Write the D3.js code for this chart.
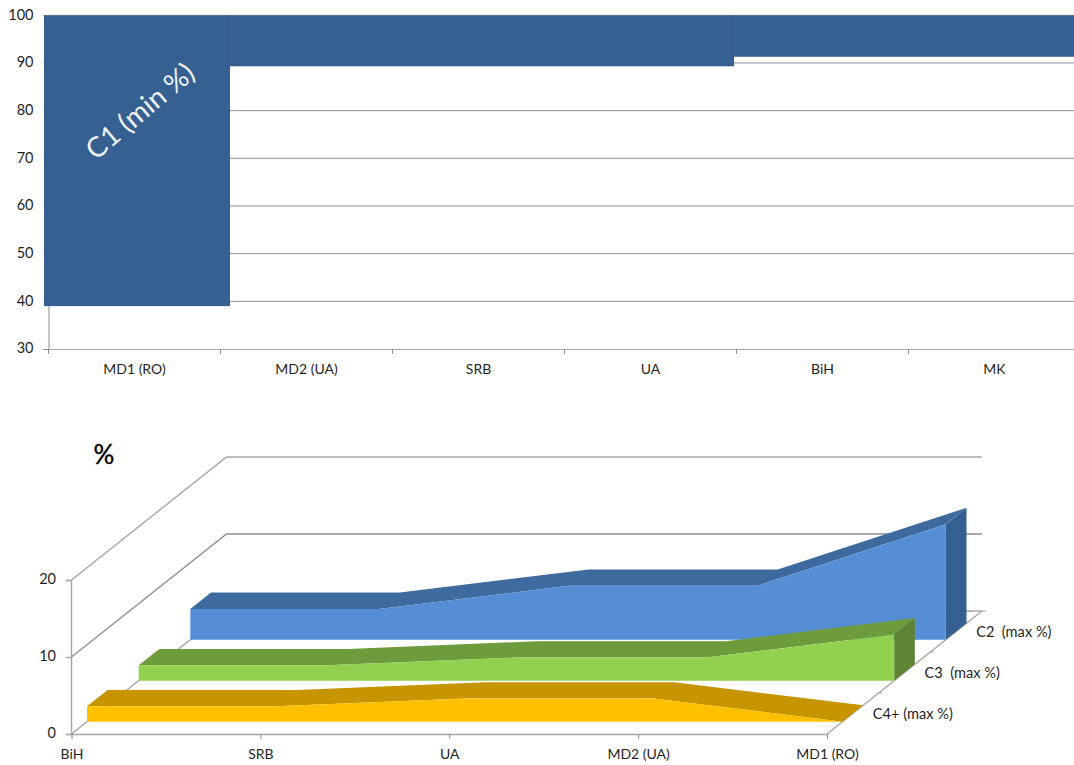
<!DOCTYPE html>
<html>
<head>
<meta charset="utf-8">
<script src="https://cdn.jsdelivr.net/npm/d3@7/dist/d3.min.js"></script>
<style>
  html, body { margin: 0; padding: 0; background: #fff; }
  svg { display: block; }
  text { font-family: Lato, "Open Sans", sans-serif; fill: #1f1f1f; }
</style>
</head>
<body>
<svg id="chart" width="1074" height="765"></svg>
<script>
// Minimum C1 share per region (upper chart)
const c1Categories = ["MD1 (RO)", "MD2 (UA)", "SRB", "UA", "BiH", "MK"];
const c1Values = [39, 89.3, 89.3, 89.3, 91.3, 91.3];
const c1Ticks = [30, 40, 50, 60, 70, 80, 90, 100];
const c1Label = "C1 (min %)";

// Maximum shares per class (lower chart)
const maxCategories = ["BiH", "SRB", "UA", "MD2 (UA)", "MD1 (RO)"];
const seriesNames = ["C2  (max %)", "C3  (max %)", "C4+ (max %)"];
const c2Values = [4, 4, 7, 7, 15];
const c3Values = [2, 2, 3, 3, 6];
const c4Values = [2, 2, 3, 3, 0];
const maxTicks = [0, 10, 20];

const svg = d3.select("#chart");
const gridColor = "#8c8c8c";
const axisColor = "#a6a6a6";

/* ---------- upper chart: bars hanging from 100 % ---------- */
const yTop = d3.scaleLinear().domain([30, 100]).range([349, 15.3]);
const xTop = d3.scaleBand().domain(c1Categories).range([48.5, 1080.5]);
// Bar edges do not sit on the category ticks: the first bar is wider than the rest
const barEdge = d3.scaleLinear().domain([0, 1, 4, 6]).range([44, 230, 734, 1074]);

const upper = svg.append("g");

upper.append("g").selectAll("line")
  .data(c1Ticks.filter(t => t > 30))
  .join("line")
  .attr("x1", 48.5).attr("x2", 1074)
  .attr("y1", d => yTop(d)).attr("y2", d => yTop(d))
  .attr("stroke", gridColor).attr("stroke-width", 1);

const leftAxis = upper.append("g")
  .attr("transform", "translate(48.5,0)")
  .call(d3.axisLeft(yTop).tickValues(c1Ticks).tickSize(5).tickPadding(10));
leftAxis.selectAll(".domain, line").attr("stroke", gridColor);
leftAxis.selectAll("text").attr("font-size", 14.5).attr("dy", "0.26em");

const bottomAxis = upper.append("g")
  .attr("transform", "translate(0,349)")
  .call(d3.axisBottom(xTop).tickSize(0).tickPadding(15));
bottomAxis.selectAll(".domain").attr("stroke", axisColor).attr("stroke-width", 1.2);
bottomAxis.selectAll("text").attr("font-size", 14);

upper.append("g").selectAll("line")
  .data(c1Categories)
  .join("line")
  .attr("x1", d => xTop(d)).attr("x2", d => xTop(d))
  .attr("y1", 349).attr("y2", 354)
  .attr("stroke", gridColor);

upper.append("g").selectAll("rect")
  .data(c1Values)
  .join("rect")
  .attr("x", (d, i) => barEdge(i))
  .attr("width", (d, i) => barEdge(i + 1) - barEdge(i))
  .attr("y", yTop(100))
  .attr("height", d => yTop(d) - yTop(100))
  .attr("fill", "#376092");

// Faint seams where the bar height changes
upper.append("g").selectAll("line")
  .data(c1Values.slice(1).map((d, i) => ({ i: i + 1, changed: d !== c1Values[i], end: Math.max(d, c1Values[i]) }))
    .filter(d => d.changed))
  .join("line")
  .attr("x1", d => barEdge(d.i) - 1).attr("x2", d => barEdge(d.i) - 1)
  .attr("y1", yTop(100)).attr("y2", d => yTop(d.end))
  .attr("stroke", "#345a89").attr("stroke-width", 1);

upper.append("text")
  .attr("transform", "translate(140,111) rotate(-40)")
  .attr("text-anchor", "middle")
  .attr("dy", "0.35em")
  .attr("font-size", 28)
  .style("fill", "#eef2f7")
  .text(c1Label);

/* ---------- lower chart: pseudo-3D ribbons ---------- */
const xFront = d3.scalePoint().domain(maxCategories).range([71.5, 827]);
// C2 sits at the back of the floor, C4+ at the front
const depth = d3.scaleBand().domain(seriesNames).range([1, 0]).paddingInner(0.6).paddingOuter(0.3);
const vScale = d3.scaleLinear().domain([0, 20]).range([734, 580]);
const depthDX = 155, depthDY = -123;

// Project (category, depth 0..1, value) on to the page
const project = (cat, d, v) => [xFront(cat) + d * depthDX, vScale(v) + d * depthDY];

const lower = svg.append("g");
const line3d = d3.line();

// Side wall and back wall gridlines
lower.append("g").selectAll("path")
  .data(maxTicks)
  .join("path")
  .attr("fill", "none")
  .attr("stroke", d => d === 10 ? "#8f8f8f" : axisColor)
  .attr("stroke-width", 1.4)
  .attr("d", v => line3d([
    project(maxCategories[0], 0, v),
    project(maxCategories[0], 1, v),
    project(maxCategories[maxCategories.length - 1], 1, v)
  ]));

// Right edge of the floor, with its depth ticks
const lastCat = maxCategories[maxCategories.length - 1];
lower.append("path")
  .attr("fill", "none").attr("stroke", axisColor).attr("stroke-width", 1.4)
  .attr("d", line3d([project(lastCat, 0, 0), project(lastCat, 1, 0)]));
lower.append("g").selectAll("path")
  .data([1 / 3, 2 / 3, 1])
  .join("path")
  .attr("stroke", axisColor)
  .attr("d", d => {
    const p = project(lastCat, d, 0);
    return line3d([p, [p[0] + 4, p[1]]]);
  });

const ribbons = [
  { name: seriesNames[0], values: c2Values, front: "#558ed5", topFace: "#3f6a9f", cap: "#376092" },
  { name: seriesNames[1], values: c3Values, front: "#92d050", topFace: "#6e9b3b", cap: "#5f8434" },
  { name: seriesNames[2], values: c4Values, front: "#ffc000", topFace: "#c69500", cap: "#b88a00" }
];

// Rear ribbons first so nearer ones overlap them
ribbons.forEach(r => {
  const d0 = depth(r.name);
  const d1 = d0 + depth.bandwidth();
  const g = lower.append("g");
  const frontTop = maxCategories.map((c, i) => project(c, d0, r.values[i]));
  const backTop = maxCategories.map((c, i) => project(c, d1, r.values[i]));
  const lastVal = r.values[r.values.length - 1];

  g.append("path").attr("fill", r.cap)
    .attr("d", line3d([
      project(lastCat, d0, lastVal), project(lastCat, d1, lastVal),
      project(lastCat, d1, 0), project(lastCat, d0, 0)
    ]) + "Z");
  g.append("path").attr("fill", r.topFace)
    .attr("d", line3d(frontTop.concat(backTop.slice().reverse())) + "Z");
  g.append("path").attr("fill", r.front)
    .attr("d", line3d(frontTop.concat([
      project(lastCat, d0, 0), project(maxCategories[0], d0, 0)
    ])) + "Z");
});

// Front axes
const vAxis = lower.append("g")
  .attr("transform", "translate(71,0)")
  .call(d3.axisLeft(vScale).tickValues(maxTicks).tickSize(5).tickSizeOuter(5).tickPadding(10));
vAxis.selectAll(".domain, line").attr("stroke", axisColor).attr("stroke-width", 1.4);
vAxis.selectAll("text").attr("font-size", 14.5).attr("dy", "0.22em");

const xAxis = lower.append("g")
  .attr("transform", "translate(0,734)")
  .call(d3.axisBottom(xFront).tickSize(5).tickSizeOuter(0).tickPadding(10));
xAxis.selectAll(".domain").attr("stroke", axisColor).attr("stroke-width", 1.6);
xAxis.selectAll("line").attr("stroke", gridColor);
xAxis.selectAll("text").attr("font-size", 14);

// Series names along the floor edge
lower.append("g").selectAll("text")
  .data(seriesNames)
  .join("text")
  .attr("x", d => project(lastCat, depth(d) + depth.bandwidth() / 2, 0)[0] + 20)
  .attr("y", d => project(lastCat, depth(d) + depth.bandwidth() / 2, 0)[1])
  .attr("dy", "0.35em")
  .attr("font-size", 14.6)
  .style("white-space", "pre")
  .text(d => d);

lower.append("text")
  .attr("x", 104).attr("y", 464)
  .attr("text-anchor", "middle")
  .attr("font-size", 26)
  .style("fill", "#000")
  .style("stroke", "#000")
  .style("stroke-width", 0.4)
  .text("%");
</script>
</body>
</html>
